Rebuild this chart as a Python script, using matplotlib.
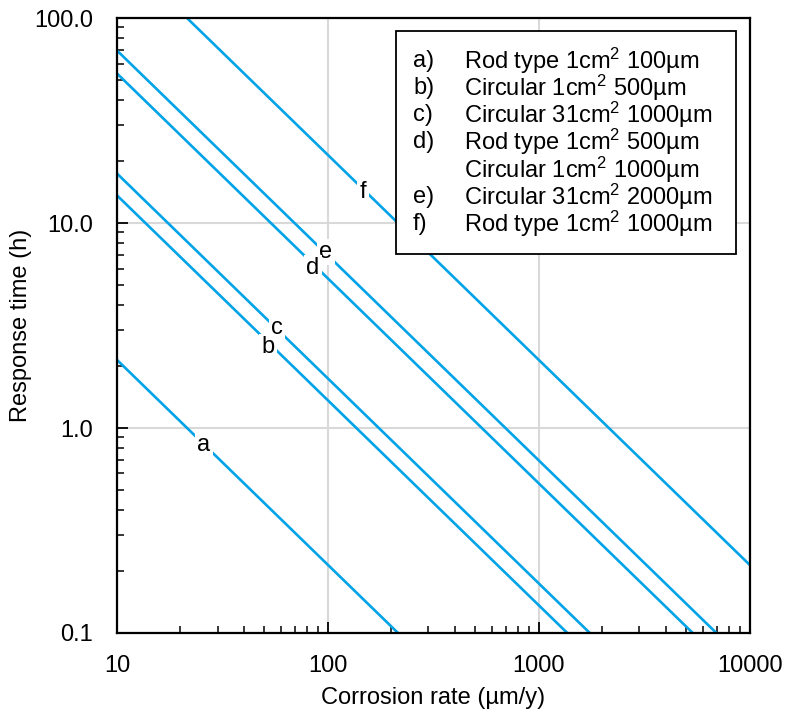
import numpy as np
import matplotlib.pyplot as plt
from matplotlib.patches import Rectangle
from matplotlib.ticker import FixedLocator, LogLocator, NullFormatter

plt.rcParams['font.family'] = ['Liberation Sans', 'DejaVu Sans']

# response time (h) = k / corrosion rate; k
series = ['a', 'b', 'c', 'd', 'e', 'f']
k_values = [21.5, 136.5, 174.5, 537, 695, 2150]
label_x = [25.8, 52.0, 57.3, 84.9, 97.9, 146.6]
label_y = [0.826, 2.48, 3.07, 6.03, 7.22, 14.2]
label_z = [3, 3.2, 3.1, 3.2, 3.1, 3]

legend_keys = ['a)', 'b)', 'c)', 'd)', '', 'e)', 'f)']
legend_text = ['Rod type 1cm$^2$ 100µm',
               'Circular 1cm$^2$ 500µm',
               'Circular 31cm$^2$ 1000µm',
               'Rod type 1cm$^2$ 500µm',
               'Circular 1cm$^2$ 1000µm',
               'Circular 31cm$^2$ 2000µm',
               'Rod type 1cm$^2$ 1000µm']

x_ticks = [10, 100, 1000, 10000]
x_ticklabels = ['10', '100', '1000', '10000']
y_ticks = [0.1, 1, 10, 100]
y_ticklabels = ['0.1', '1.0', '10.0', '100.0']

blue = '#00A3E8'
fs = 17

plt.rcParams['mathtext.fontset'] = 'custom'
plt.rcParams['mathtext.rm'] = 'Liberation Sans'
plt.rcParams['mathtext.it'] = 'Liberation Sans'
plt.rcParams['mathtext.default'] = 'regular'

fig = plt.figure(figsize=(7.85, 7.1), dpi=100)
ax = fig.add_axes([0.149, 0.1085, 0.806, 0.866])

rate = np.logspace(1, 4, 400)
for name, k in zip(series, k_values):
    ax.plot(rate, k / rate, color=blue, lw=1.9, zorder=2)

for name, lx, ly, z in zip(series, label_x, label_y, label_z):
    ax.text(lx, ly, name, fontsize=fs, ha='center', va='center', zorder=z,
            bbox=dict(boxstyle='square,pad=0.1', fc='white', ec='none'))

ax.set_xscale('log')
ax.set_yscale('log')
ax.set_xlim(10, 10000)
ax.set_ylim(0.1, 100)

ax.xaxis.set_major_locator(FixedLocator(x_ticks))
ax.set_xticklabels(x_ticklabels)
ax.yaxis.set_major_locator(FixedLocator(y_ticks))
ax.set_yticklabels(y_ticklabels)
ax.xaxis.set_minor_locator(LogLocator(base=10, subs=np.arange(2, 10)))
ax.yaxis.set_minor_locator(LogLocator(base=10, subs=np.arange(2, 10)))
ax.xaxis.set_minor_formatter(NullFormatter())
ax.yaxis.set_minor_formatter(NullFormatter())

ax.tick_params(which='major', direction='in', length=8, width=1.3,
               labelsize=fs)
ax.tick_params(axis='x', which='major', pad=16)
ax.tick_params(axis='y', which='major', pad=17)
ax.tick_params(which='minor', direction='in', length=5, width=1.1)
ax.tick_params(top=False, right=False, which='both')

ax.grid(True, which='major', color='#d9d9d9', lw=1.5, zorder=0)
ax.set_axisbelow(True)

for sp in ax.spines.values():
    sp.set_linewidth(1.6)
    sp.set_zorder(4)

ax.set_xlabel('Corrosion rate (µm/y)', fontsize=fs, labelpad=7)
ax.set_ylabel('Response time (h)', fontsize=fs, va='center')
ax.yaxis.set_label_coords(-0.152, 0.5)

# legend box
ax.add_patch(Rectangle((0.441, 0.616), 0.538, 0.363, transform=ax.transAxes,
                       fc='white', ec='black', lw=1.3, zorder=5))
top = 0.931
step = 0.0443
for i, (key, txt) in enumerate(zip(legend_keys, legend_text)):
    yy = top - i * step
    ax.text(0.468, yy, key, transform=ax.transAxes, fontsize=fs,
            ha='left', va='center', zorder=6)
    ax.text(0.549, yy, txt, transform=ax.transAxes, fontsize=fs,
            ha='left', va='center', zorder=6)

fig.savefig('out.png', dpi=100)
